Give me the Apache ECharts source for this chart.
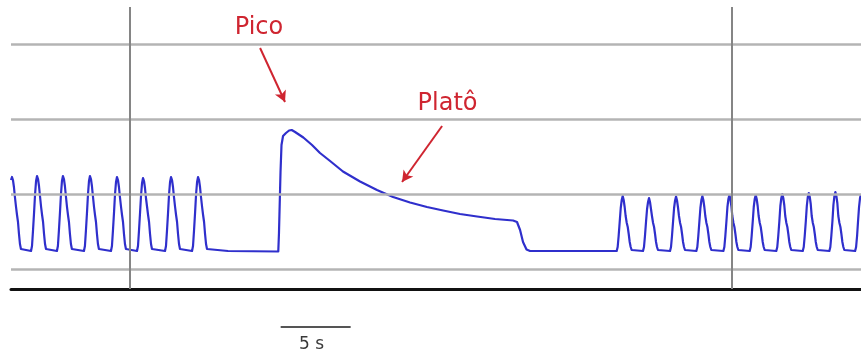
<!DOCTYPE html>
<html>
<head>
<meta charset="utf-8">
<script src="https://cdn.jsdelivr.net/npm/echarts@6/dist/echarts.min.js"></script>
<style>
  html, body { margin: 0; padding: 0; background: #ffffff; }
  #chart { width: 861px; height: 358px; }
</style>
</head>
<body>
<div id="chart"></div>
<script>
// Airway pressure trace (time in s, pressure in cmH2O)
// Regular ventilation before the inspiratory pause
const ventilationBefore = [
  [0, 17.8], [0.07, 18.4], [0.14, 17.8], [0.21, 16.4], [0.28, 14.4], [0.36, 12.4], [0.43, 10.8], [0.5, 9.4], [0.57, 7.0], [0.64, 5.0], [0.71, 4.0], [0.82, 3.6],
  [1.43, 3.6], [1.5, 4.6], [1.57, 7.6], [1.65, 11.4], [1.72, 15.0], [1.79, 17.6], [1.86, 18.6], [1.93, 18.0], [2.0, 16.6], [2.07, 14.6], [2.15, 12.4], [2.22, 10.8], [2.29, 9.4], [2.36, 7.0], [2.43, 5.0], [2.5, 4.0], [2.61, 3.6],
  [3.28, 3.6], [3.35, 4.6], [3.42, 7.6], [3.5, 11.4], [3.57, 15.0], [3.64, 17.6], [3.71, 18.6], [3.78, 18.0], [3.85, 16.6], [3.92, 14.6], [4.0, 12.4], [4.07, 10.8], [4.14, 9.4], [4.21, 7.0], [4.28, 5.0], [4.35, 4.0], [4.46, 3.6],
  [5.21, 3.6], [5.28, 4.6], [5.35, 7.6], [5.43, 11.4], [5.5, 15.0], [5.57, 17.6], [5.64, 18.6], [5.71, 18.0], [5.78, 16.6], [5.85, 14.6], [5.93, 12.4], [6.0, 10.8], [6.07, 9.4], [6.14, 7.0], [6.21, 5.0], [6.28, 4.0], [6.39, 3.6],
  [7.14, 3.6], [7.21, 4.6], [7.28, 7.6], [7.36, 11.4], [7.43, 15.0], [7.5, 17.4], [7.57, 18.4], [7.64, 17.8], [7.71, 16.4], [7.78, 14.4], [7.86, 12.4], [7.93, 10.8], [8.0, 9.4], [8.07, 7.0], [8.14, 5.0], [8.21, 4.0], [8.32, 3.6],
  [9.0, 3.6], [9.07, 4.6], [9.14, 7.6], [9.22, 11.4], [9.29, 14.8], [9.36, 17.2], [9.43, 18.2], [9.5, 17.6], [9.57, 16.2], [9.64, 14.2], [9.72, 12.4], [9.79, 10.8], [9.86, 9.4], [9.93, 7.0], [10.0, 5.0], [10.07, 4.0], [10.18, 3.6],
  [11.0, 3.6], [11.07, 4.6], [11.14, 7.6], [11.22, 11.4], [11.29, 15.0], [11.36, 17.4], [11.43, 18.4], [11.5, 17.8], [11.57, 16.4], [11.64, 14.4], [11.72, 12.4], [11.79, 10.8], [11.86, 9.4], [11.93, 7.0], [12.0, 5.0], [12.07, 4.0], [12.18, 3.6],
  [12.93, 3.6], [13.0, 4.6], [13.07, 7.6], [13.15, 11.4], [13.22, 15.0], [13.29, 17.4], [13.36, 18.4], [13.43, 17.8], [13.5, 16.4], [13.57, 14.4], [13.65, 12.4], [13.72, 10.8], [13.79, 9.4], [13.86, 7.0], [13.93, 5.0], [14.0, 4.0], [14.11, 3.6]
];

// Expiratory baseline, inspiratory hold (peak then plateau decay), release
const pauseManeuver = [
  [15.5, 3.6], [19.09, 3.5], [19.14, 7.2], [19.21, 7.4], [19.25, 19.4], [19.32, 24.8], [19.43, 26.6],
  [19.64, 27.2], [19.86, 27.7], [20.05, 27.8], [20.29, 27.4], [20.88, 26.3], [21.5, 24.8], [22.07, 23.2],
  [22.79, 21.6], [23.71, 19.5], [24.93, 17.5], [26.14, 15.8], [27.29, 14.4], [28.5, 13.3], [29.71, 12.4],
  [30.86, 11.7], [32.07, 11.0], [33.29, 10.5], [34.57, 10.0], [35.86, 9.7], [36.14, 9.4], [36.36, 7.8],
  [36.57, 5.4], [36.82, 3.9], [37.07, 3.6], [40.0, 3.6]
];

// Regular ventilation resumed after the pause
const ventilationAfter = [
  [43.26, 3.6], [43.33, 4.4], [43.4, 6.6], [43.48, 9.6], [43.55, 12.2], [43.62, 13.8], [43.69, 14.6], [43.76, 13.8], [43.83, 12.4], [43.9, 10.6], [43.98, 9.2], [44.05, 8.4], [44.12, 7.0], [44.19, 5.4], [44.26, 4.4], [44.33, 3.8], [44.44, 3.6],
  [45.14, 3.6], [45.21, 4.4], [45.28, 6.6], [45.36, 9.6], [45.43, 12.0], [45.5, 13.4], [45.57, 14.2], [45.64, 13.4], [45.71, 12.0], [45.78, 10.6], [45.86, 9.2], [45.93, 8.4], [46.0, 7.0], [46.07, 5.4], [46.14, 4.4], [46.21, 3.8], [46.32, 3.6],
  [47.07, 3.6], [47.14, 4.4], [47.21, 6.6], [47.29, 9.6], [47.36, 12.2], [47.43, 13.7], [47.5, 14.5], [47.57, 13.7], [47.64, 12.3], [47.71, 10.6], [47.79, 9.2], [47.86, 8.4], [47.93, 7.0], [48.0, 5.4], [48.07, 4.4], [48.14, 3.8], [48.25, 3.6],
  [48.95, 3.6], [49.02, 4.4], [49.09, 6.6], [49.17, 9.6], [49.24, 12.2], [49.31, 13.8], [49.38, 14.6], [49.45, 13.8], [49.52, 12.4], [49.59, 10.6], [49.67, 9.2], [49.74, 8.4], [49.81, 7.0], [49.88, 5.4], [49.95, 4.4], [50.02, 3.8], [50.13, 3.6],
  [50.88, 3.6], [50.95, 4.4], [51.02, 6.6], [51.1, 9.6], [51.17, 12.4], [51.24, 14.0], [51.31, 14.8], [51.38, 14.0], [51.45, 12.6], [51.52, 10.6], [51.6, 9.2], [51.67, 8.4], [51.74, 7.0], [51.81, 5.4], [51.88, 4.4], [51.95, 3.8], [52.06, 3.6],
  [52.76, 3.6], [52.83, 4.4], [52.9, 6.6], [52.98, 9.6], [53.05, 12.4], [53.12, 14.0], [53.19, 14.8], [53.26, 14.0], [53.33, 12.6], [53.4, 10.6], [53.48, 9.2], [53.55, 8.4], [53.62, 7.0], [53.69, 5.4], [53.76, 4.4], [53.83, 3.8], [53.94, 3.6],
  [54.66, 3.6], [54.73, 4.4], [54.8, 6.6], [54.88, 9.6], [54.95, 12.6], [55.02, 14.2], [55.09, 15.0], [55.16, 14.2], [55.23, 12.8], [55.3, 10.6], [55.38, 9.2], [55.45, 8.4], [55.52, 7.0], [55.59, 5.4], [55.66, 4.4], [55.73, 3.8], [55.84, 3.6],
  [56.55, 3.6], [56.62, 4.4], [56.69, 6.6], [56.77, 9.6], [56.84, 12.6], [56.91, 14.4], [56.98, 15.2], [57.05, 14.4], [57.12, 13.0], [57.19, 10.6], [57.27, 9.2], [57.34, 8.4], [57.41, 7.0], [57.48, 5.4], [57.55, 4.4], [57.62, 3.8], [57.73, 3.6],
  [58.45, 3.6], [58.52, 4.4], [58.59, 6.6], [58.67, 9.6], [58.74, 12.8], [58.81, 14.6], [58.88, 15.4], [58.95, 14.6], [59.02, 13.2], [59.09, 10.6], [59.17, 9.2], [59.24, 8.4], [59.31, 7.0], [59.38, 5.4], [59.45, 4.4], [59.52, 3.8], [59.63, 3.6],
  [60.29, 3.6], [60.36, 4.4], [60.43, 6.6], [60.5, 9.6], [60.57, 12.4], [60.64, 14.2], [60.71, 15.0]
];

// Reference lines of the recorder
const gridPressures = [0, 15, 30, 45];
const gridTimes = [8.5, 51.5];

// Annotation texts and where they point (data units)
const annotationLabels = ['Pico', 'Platô'];
const labelAnchors = [[17.71, 48.3], [31.18, 33.0]];
const arrowStarts = [[17.79, 44.2], [30.79, 28.6]];
const arrowTips = [[19.57, 33.4], [27.93, 17.4]];

// Time scale bar
const scaleBarStart = 19.26;
const scaleBarSeconds = 5;
const scaleBarLabel = '5 s';

const trace = ventilationBefore.concat(pauseManeuver, ventilationAfter);

const chart = echarts.init(document.getElementById('chart'), null, { renderer: 'canvas' });

const RED = '#cf2530';

chart.setOption({
  animation: false,
  backgroundColor: '#ffffff',
  grid: { left: 11, right: 0, top: 7, bottom: 69 },
  xAxis: {
    type: 'value', min: 0, max: 60.71,
    axisLine: { show: true, onZero: false, lineStyle: { color: '#111111', width: 3 } },
    axisTick: { show: false }, axisLabel: { show: false }, splitLine: { show: false }
  },
  yAxis: {
    type: 'value', min: -4, max: 52.4,
    axisLine: { show: false }, axisTick: { show: false }, axisLabel: { show: false }, splitLine: { show: false }
  },
  series: [
    {
      name: 'grade', type: 'line', data: [], z: 1, silent: true,
      markLine: {
        silent: true, symbol: ['none', 'none'], animation: false,
        label: { show: false },
        data: gridPressures.map(v => ({ yAxis: v, lineStyle: { color: '#b4b4b4', width: 2.5, type: 'solid' } }))
          .concat(gridTimes.map(t => ({ xAxis: t, lineStyle: { color: '#858585', width: 2, type: 'solid' } })))
      }
    },
    {
      name: 'Pressão', type: 'line', data: trace, z: 3, showSymbol: false, symbol: 'none',
      clip: false,
      lineStyle: { color: '#2f2fcc', width: 2.2, join: 'round' }
    },
    {
      name: 'anotações', type: 'line', data: [], z: 4, silent: true,
      markLine: {
        silent: true, animation: false,
        symbol: ['none', 'arrow'], symbolSize: [9, 11],
        label: { show: false },
        lineStyle: { color: RED, width: 2, type: 'solid' },
        data: arrowStarts.map((s, i) => [{ coord: s }, { coord: arrowTips[i] }])
      },
      markPoint: {
        silent: true, animation: false,
        symbol: 'circle', symbolSize: 0,
        label: {
          show: true, position: 'inside', color: RED,
          fontFamily: 'DejaVu Sans', fontSize: 24
        },
        data: annotationLabels.map((txt, i) => ({ coord: labelAnchors[i], value: txt, label: { formatter: txt } }))
      }
    }
  ]
});

// Scale bar below the time axis, placed through the axis scale
const p0 = chart.convertToPixel({ gridIndex: 0 }, [scaleBarStart, -11.6]);
const p1 = chart.convertToPixel({ gridIndex: 0 }, [scaleBarStart + scaleBarSeconds, -11.6]);
const pt = chart.convertToPixel({ gridIndex: 0 }, [scaleBarStart + scaleBarSeconds * 0.44, -15.2]);
chart.setOption({
  graphic: [
    { type: 'line', shape: { x1: p0[0], y1: p0[1], x2: p1[0], y2: p1[1] }, style: { stroke: '#555555', lineWidth: 2 } },
    { type: 'text', x: pt[0], y: pt[1], style: { text: scaleBarLabel, fill: '#3a3a3a', font: '17px "DejaVu Sans"', align: 'center', verticalAlign: 'middle' } }
  ]
});
</script>
</body>
</html>
